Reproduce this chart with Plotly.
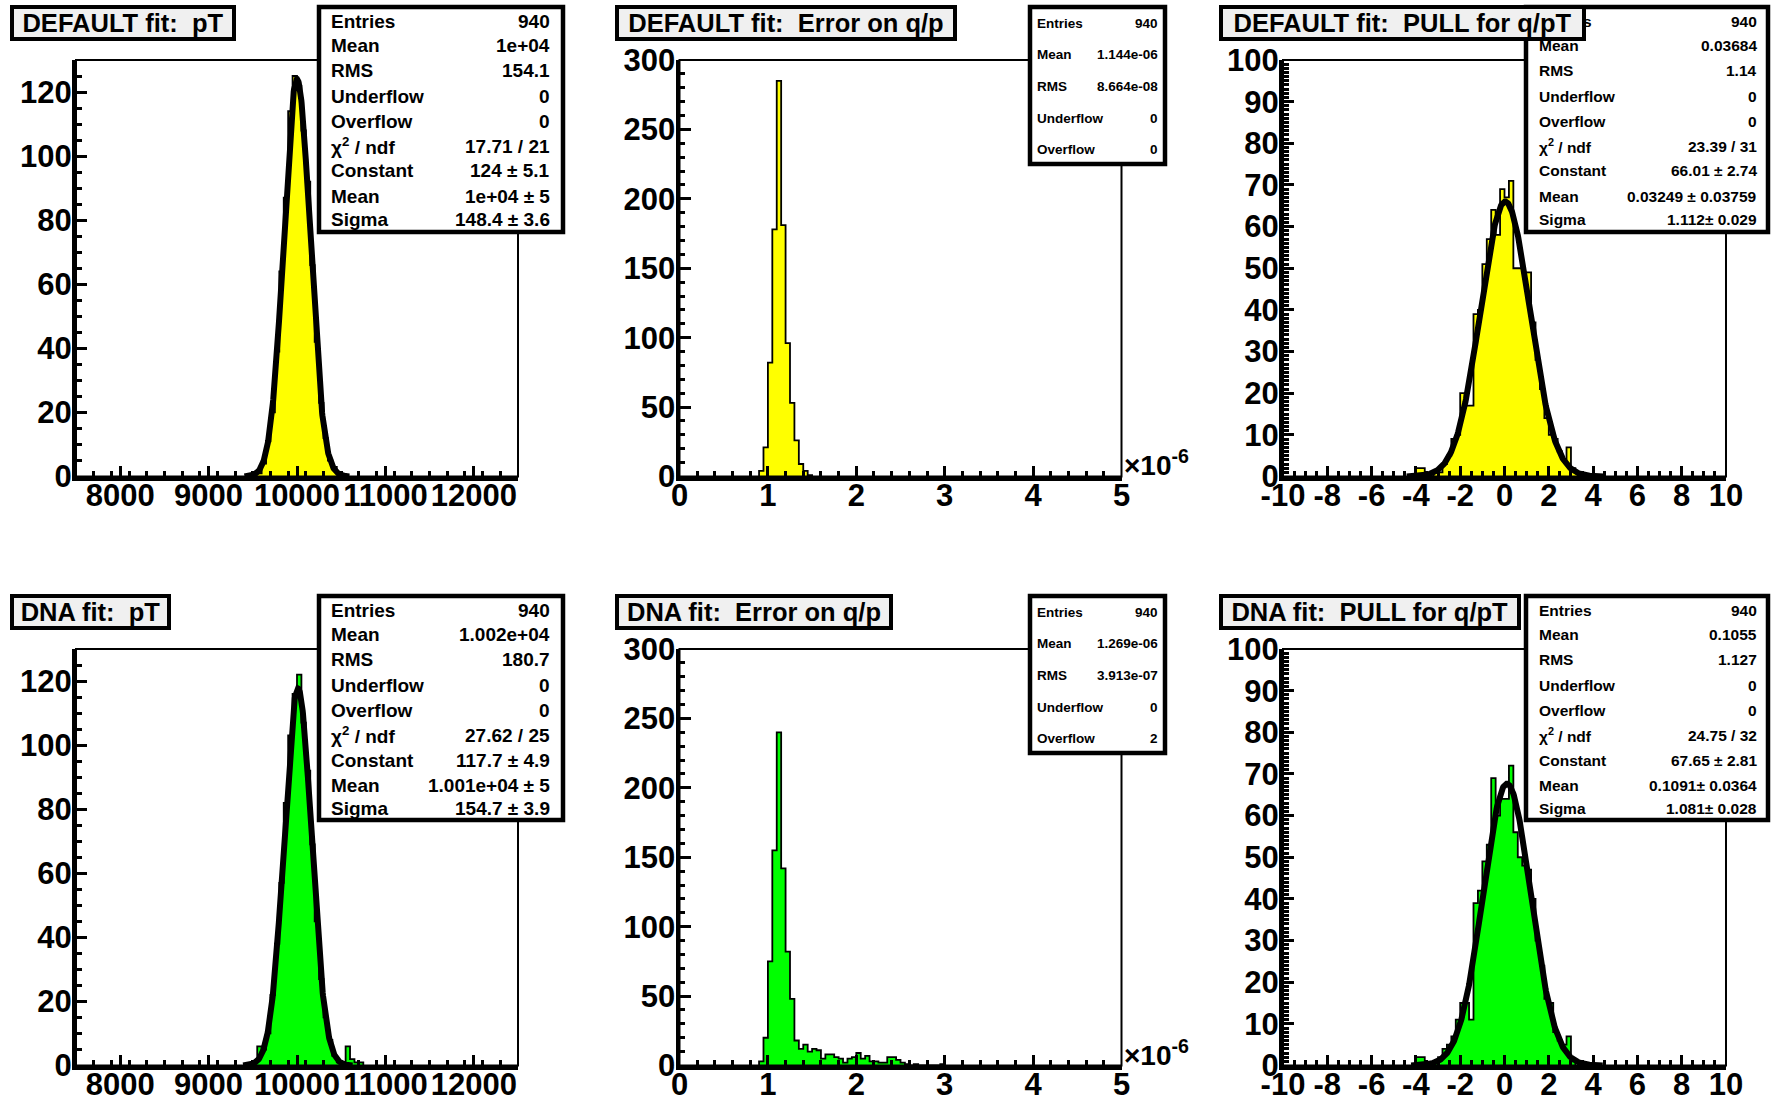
import numpy as np
import plotly.graph_objects as go

W, H = 1778, 1102
FONT = "Liberation Sans, Arial, Helvetica, sans-serif"

# ---------------- data ----------------
# pT histograms: bins of 50 starting at 9500
pt_bin_lo = 9500.0
pt_bin_w = 50.0
pt_default = [1, 1, 4, 11, 20, 39, 64, 87, 114, 125, 122, 108, 92, 66, 42, 23, 12, 5, 3, 1]
pt_dna = [1, 6, 5, 10, 22, 38, 57, 82, 103, 116, 122, 107, 92, 69, 45, 27, 15, 8, 3, 1,
          1, 6, 2, 1, 1]

# error on q/p histograms: bins of 0.05e-6 starting at 0.90e-6 (axis in units of 1e-6)
err_bin_lo = 0.90
err_bin_w = 0.05
err_default = [4, 21, 82, 178, 285, 181, 96, 53, 26, 9, 4, 1]
err_dna = [3, 20, 75, 155, 240, 142, 82, 48, 18, 12, 15, 10, 12, 11, 5, 8, 8, 6, 5, 2,
           5, 6, 9, 5, 7, 3, 3, 2, 2, 6, 6, 4, 2, 1, 0, 1, 0, 0, 0, 0, 0, 1]

# pull histograms: bins of 0.2 starting at -4.0
pull_bin_lo = -4.0
pull_bin_w = 0.2
pull_default = [2, 2, 0, 0, 1, 1, 3, 5, 9, 10, 20, 17, 17, 39, 40, 51, 57, 64, 58, 69,
                67, 71, 50, 50, 49, 49, 37, 28, 21, 14, 10, 9, 6, 4, 7, 2, 1]
pull_dna = [2, 2, 0, 0, 1, 2, 4, 5, 7, 11, 15, 15, 11, 39, 42, 49, 53, 69, 60, 64,
            64, 72, 56, 50, 48, 47, 40, 30, 24, 16, 15, 8, 6, 5, 7, 1]

# gaussian fit parameters (constant, mean, sigma)
fit_pt_default = (124.0, 10000.0, 148.4)
fit_pt_dna = (117.7, 10010.0, 154.7)
fit_pull_default = (66.01, 0.03249, 1.112)
fit_pull_dna = (67.65, 0.1091, 1.081)

titles = ["DEFAULT fit:\u00a0 pT", "DEFAULT fit:\u00a0 Error on q/p", "DEFAULT fit:\u00a0 PULL for q/pT",
          "DNA fit:\u00a0 pT", "DNA fit:\u00a0 Error on q/p", "DNA fit:\u00a0 PULL for q/pT"]

stat_labels_fit = ["Entries", "Mean", "RMS", "Underflow", "Overflow", "\u03c7<sup>2</sup> / ndf",
                   "Constant", "Mean", "Sigma"]
stat_labels_plain = ["Entries", "Mean", "RMS", "Underflow", "Overflow"]
stats_values = [
    ["940", "1e+04", "154.1", "0", "0", "17.71 / 21", "124 \u00b1 5.1", "1e+04 \u00b1 5", "148.4 \u00b1 3.6"],
    ["940", "1.144e-06", "8.664e-08", "0", "0"],
    ["940", "0.03684", "1.14", "0", "0", "23.39 / 31", "66.01 \u00b1 2.74", "0.03249 \u00b1 0.03759", "1.112\u00b1 0.029"],
    ["940", "1.002e+04", "180.7", "0", "0", "27.62 / 25", "117.7 \u00b1 4.9", "1.001e+04 \u00b1 5", "154.7 \u00b1 3.9"],
    ["940", "1.269e-06", "3.913e-07", "0", "2"],
    ["940", "0.1055", "1.127", "0", "0", "24.75 / 32", "67.65 \u00b1 2.81", "0.1091\u00b1 0.0364", "1.081\u00b1 0.028"],
]

pull_ticks = list(range(-10, 11, 2))
pull_ticktext = [str(v) for v in pull_ticks]

# ---------------- layout geometry (pixels) ----------------
col_px = [(76, 518), (679.5, 1121.5), (1283, 1726)]
row_px = [(60, 476.5), (649, 1065.5)]

title_boxes = [(10, 5, 236, 41), (615, 5, 957, 41), (1218.5, 5, 1585.5, 41),
               (10, 594, 171, 630), (615, 594, 893, 630), (1218.5, 594, 1520, 630)]
stat_boxes = [(317, 5, 565, 234), (1028, 5, 1167, 166), (1524, 5, 1770, 234),
              (317, 594, 565, 822), (1028, 594, 1167, 755), (1524, 594, 1770, 822)]
stat_text_x = [(329.5, 551), (1036, 1158.5), (1537.5, 1758),
               (329.5, 551), (1036, 1158.5), (1537.5, 1758)]
stat_font = [19, 13.5, 15.5, 19, 13.5, 15.5]
rows9 = [16, 40.5, 65, 91, 116.3, 141, 166, 191.3, 214.7]
rows5 = [18, 49.3, 81.3, 113, 144.7]

YELLOW = "#ffff00"
GREEN = "#00ff00"


def px(x):
    return x / W


def py(y):
    return 1 - y / H


def step_xy(lo, w, counts):
    edges = [lo + w * i for i in range(len(counts) + 1)]
    xs = [edges[0]] + edges[:-1] + [edges[-1]]
    ys = [0] + list(counts) + [0]
    return xs, ys


panels = [
    dict(lo=pt_bin_lo, w=pt_bin_w, counts=pt_default, color=YELLOW, fit=fit_pt_default,
         xr=[7500, 12500], xd=1000, xm=200, yr=[0, 130], yd=20, ym=5, kind="pt"),
    dict(lo=err_bin_lo, w=err_bin_w, counts=err_default, color=YELLOW, fit=None,
         xr=[0, 5], xd=1, xm=0.2, yr=[0, 300], yd=50, ym=10, kind="err"),
    dict(lo=pull_bin_lo, w=pull_bin_w, counts=pull_default, color=YELLOW, fit=fit_pull_default,
         xr=[-10, 10], xd=2, xm=0.5, yr=[0, 100], yd=10, ym=1, kind="pull"),
    dict(lo=pt_bin_lo, w=pt_bin_w, counts=pt_dna, color=GREEN, fit=fit_pt_dna,
         xr=[7500, 12500], xd=1000, xm=200, yr=[0, 130], yd=20, ym=5, kind="pt"),
    dict(lo=err_bin_lo, w=err_bin_w, counts=err_dna, color=GREEN, fit=None,
         xr=[0, 5], xd=1, xm=0.2, yr=[0, 300], yd=50, ym=10, kind="err"),
    dict(lo=pull_bin_lo, w=pull_bin_w, counts=pull_dna, color=GREEN, fit=fit_pull_dna,
         xr=[-10, 10], xd=2, xm=0.5, yr=[0, 100], yd=10, ym=1, kind="pull"),
]

fig = go.Figure()
layout = dict(width=W, height=H, margin=dict(l=0, r=0, t=0, b=0, pad=0, autoexpand=False), autosize=False,
              paper_bgcolor="white", plot_bgcolor="white", showlegend=False,
              font=dict(family=FONT, color="black"))
shapes = []
annotations = []

tickfont = dict(family=FONT, size=31, color="black", weight="bold")

for i, p in enumerate(panels):
    n = i + 1
    r, c = divmod(i, 3)
    xa = "x" if n == 1 else f"x{n}"
    ya = "y" if n == 1 else f"y{n}"
    xkey = "xaxis" if n == 1 else f"xaxis{n}"
    ykey = "yaxis" if n == 1 else f"yaxis{n}"
    x0p, x1p = col_px[c]
    y0p, y1p = row_px[r]

    xs, ys = step_xy(p["lo"], p["w"], p["counts"])
    fig.add_trace(go.Scatter(x=xs, y=ys, mode="lines", line=dict(shape="hv", color="black", width=1.8),
                             fill="tozeroy", fillcolor=p["color"], xaxis=xa, yaxis=ya, hoverinfo="skip"))
    if p["fit"] is not None:
        C, m, s = p["fit"]
        fx = np.linspace(m - 4 * s, m + 4 * s, 400)
        fy = C * np.exp(-0.5 * ((fx - m) / s) ** 2)
        fig.add_trace(go.Scatter(x=fx, y=fy, mode="lines", line=dict(color="black", width=6),
                                 xaxis=xa, yaxis=ya, hoverinfo="skip"))

    xcfg = dict(domain=[px(x0p), px(x1p)], range=p["xr"], anchor=ya, showgrid=False, zeroline=False,
                showline=True, linewidth=4, linecolor="black", ticks="inside", ticklen=11, tickwidth=3,
                tickcolor="black", tickfont=tickfont, tickangle=0, fixedrange=True, automargin=False,
                ticklabelstandoff=-12,
                minor=dict(ticks="inside", ticklen=5.5, tickwidth=3, tickcolor="black",
                           tickmode="linear", tick0=p["xr"][0], dtick=p["xm"], showgrid=False))
    if p["kind"] == "pull":
        xcfg.update(tickmode="array", tickvals=pull_ticks, ticktext=pull_ticktext)
    else:
        xcfg.update(tickmode="linear", tick0=0, dtick=p["xd"], tickformat="d")
    ycfg = dict(domain=[py(y1p), py(y0p)], range=p["yr"], anchor=xa, showgrid=False, zeroline=False,
                showline=True, linewidth=4, linecolor="black", ticks="inside", ticklen=11, tickwidth=3,
                tickcolor="black", tickfont=tickfont, fixedrange=True, tickmode="linear", tick0=0,
                dtick=p["yd"], tickformat="d", automargin=False, ticklabelstandoff=-6,
                minor=dict(ticks="inside", ticklen=5.5, tickwidth=3, tickcolor="black",
                           tickmode="linear", tick0=0, dtick=p["ym"], showgrid=False))
    layout[xkey] = xcfg
    layout[ykey] = ycfg

    # thin frame (top & right)
    shapes.append(dict(type="rect", xref="paper", yref="paper", x0=px(x0p), x1=px(x1p),
                       y0=py(y1p), y1=py(y0p), line=dict(color="black", width=2), layer="above"))

    # stats box
    bx0, by0, bx1, by1 = stat_boxes[i]
    shapes.append(dict(type="rect", xref="paper", yref="paper", x0=px(bx0 + 2), x1=px(bx1 - 2),
                       y0=py(by1 - 2), y1=py(by0 + 2), fillcolor="white",
                       line=dict(color="black", width=4.5), layer="above"))
    vals = stats_values[i]
    labels = stat_labels_fit if len(vals) == 9 else stat_labels_plain
    offs = rows9 if len(vals) == 9 else rows5
    lx, vx = stat_text_x[i]
    for lab, val, off in zip(labels, vals, offs):
        yy = py(by0 + off)
        annotations.append(dict(xref="paper", yref="paper", x=px(lx), y=yy, xanchor="left", yanchor="middle",
                                text=f"<b>{lab}</b>", showarrow=False, borderpad=0,
                                font=dict(family=FONT, size=stat_font[i], color="black")))
        annotations.append(dict(xref="paper", yref="paper", x=px(vx), y=yy, xanchor="right", yanchor="middle",
                                text=f"<b>{val}</b>", showarrow=False, borderpad=0,
                                font=dict(family=FONT, size=stat_font[i], color="black")))

    # x10^-6 label
    if p["kind"] == "err":
        annotations.append(dict(xref="paper", yref="paper", x=px(x1p + 1), y=py(y1p + 6),
                                xanchor="left", yanchor="bottom", text="<b>\u00d710<sup>-6</sup></b>",
                                showarrow=False, borderpad=0,
                                font=dict(family=FONT, size=28, color="black")))

# title boxes last so they are drawn on top of the stats boxes
for i, t in enumerate(titles):
    tx0, ty0, tx1, ty1 = title_boxes[i]
    annotations.append(dict(xref="paper", yref="paper", x=px(tx0), y=py(ty0), xanchor="left", yanchor="top",
                            text=f"<b>{t}</b>", showarrow=False, align="center",
                            width=tx1 - tx0 - 8, borderpad=0, borderwidth=4, bordercolor="black",
                            bgcolor="#f0f0f0", font=dict(family=FONT, size=25.5, color="black")))

layout["shapes"] = shapes
layout["annotations"] = annotations
fig.update_layout(**layout)
fig.write_html("out.html", config={"displayModeBar": False, "staticPlot": True},
               post_script="document.body.style.margin='0';document.body.style.overflow='hidden';")
